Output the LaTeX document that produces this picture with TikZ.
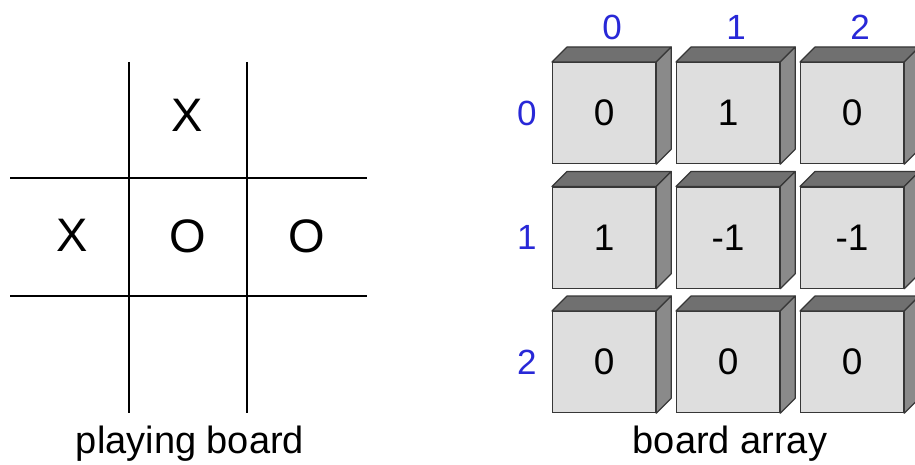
\documentclass[tikz,border=0pt]{standalone}
\usepackage{fontspec}
\setmainfont{Liberation Sans}
\usetikzlibrary{positioning}
\definecolor{frontgray}{RGB}{222,222,222}
\definecolor{topgray}{RGB}{112,112,112}
\definecolor{sidegray}{RGB}{138,138,138}
\definecolor{edgegray}{RGB}{55,55,55}
\definecolor{indexblue}{RGB}{40,40,215}

\begin{document}
\begin{tikzpicture}[x=1pt, y=-1pt,
	cell/.style = {draw = edgegray, line width = 1.2pt, fill = frontgray, anchor = north west, minimum width = 103pt, minimum height = 101pt, inner sep = 0pt, font = \fontsize{37}{40}\selectfont},
	face/.style = {draw = edgegray, line width = 1.2pt, line join = round},
	xo/.style = {font = \fontsize{47}{50}\selectfont},
	idx/.style = {text = indexblue, font = \fontsize{35}{38}\selectfont},
	caption/.style = {anchor = base, font = \fontsize{38}{40}\selectfont}
]
	\useasboundingbox (0,0) rectangle (915,465);

	\draw [line width = 2.5pt](129,62)--(129,413);
	\draw [line width = 2.5pt](247,62)--(247,413);
	\draw [line width = 2.5pt](10,178)--(367,178);
	\draw [line width = 2.5pt](10,296)--(367,296);

	\node (x1)[xo] at(187,115) {X};
	\node (x2)[xo] at(72,235) {X};
	\node (o1)[xo] at(188,236) {O};
	\node (o2)[xo] at(307,236) {O};

	\node (pb)[caption] at(190,453) {playing board};

	\foreach \r/\vals in {0/{0,1,0},1/{1,-1,-1},2/{0,0,0}} {
		\foreach \v [count=\c from 0] in \vals {
			\node (c\r\c)[cell] at(552+124*\c, 62+124.5*\r) {\v};
			\draw [face, fill = topgray](c\r\c.north west)--([xshift=15pt, yshift=15pt]c\r\c.north west)--([xshift=15pt, yshift=15pt]c\r\c.north east)--(c\r\c.north east)--cycle;
			\draw [face, fill = sidegray](c\r\c.north east)--([xshift=15pt, yshift=15pt]c\r\c.north east)--([xshift=15pt, yshift=15pt]c\r\c.south east)--(c\r\c.south east)--cycle;
		}
		\node (row\r)[idx, left = 12pt of c\r0] {\r};
	}

	\foreach \c in {0,1,2} {
		\node (col\c)[idx] at(612+124*\c, 27) {\c};
	}

	\node (ba)[caption] at(730,453) {board array};
\end{tikzpicture}
\end{document}
